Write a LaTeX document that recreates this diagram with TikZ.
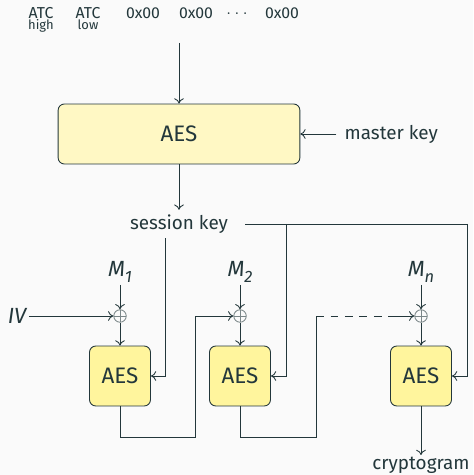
\documentclass[tikz,border=0pt]{standalone}
\usepackage{fontspec}
\setmainfont{Fira Sans}
\usetikzlibrary{positioning, arrows.meta}
\definecolor{ink}{HTML}{23373B}
\definecolor{paper}{HTML}{FAFAFA}
\definecolor{keyfill}{HTML}{FFF8C4}
\definecolor{blockfill}{HTML}{FFF59D}
\definecolor{xorline}{HTML}{7A8688}
\newcommand{\stdarrow}{-{To[length=2.4pt,width=4.4pt]}}
\newcommand{\msg}[1]{{\itshape M}\raisebox{-0.45ex}{\fontsize{7.5}{8}\selectfont #1}}

\tikzset{
    keybox/.style={draw=ink, fill=keyfill, rounded corners=0.1cm, minimum width=3.87cm, minimum height=0.96cm,
        font=\fontsize{10.2}{12}\selectfont},
    aesbox/.style={draw=ink, fill=blockfill, rounded corners=0.1cm, minimum width=0.976cm, minimum height=0.96cm,
        font=\fontsize{10.2}{12}\selectfont},
    xorop/.style={circle, draw=xorline, minimum size=0.2cm, inner sep=0pt,
        path picture={\draw[xorline] (path picture bounding box.north) -- (path picture bounding box.south)
            (path picture bounding box.west) -- (path picture bounding box.east);}},
    bytes/.style={font=\fontsize{7.2}{8}\selectfont, inner sep=0pt},
    halfbyte/.style={font=\fontsize{5.9}{7}\selectfont, inner sep=0pt},
    label/.style={font=\fontsize{10}{12}\selectfont\itshape, inner sep=1pt},
}

\begin{document}
\begin{tikzpicture}[x=0.016cm, y=-0.016cm, color=ink, text=ink, line width=0.4pt,
        font=\fontsize{8.6}{10}\selectfont]
        \fill[paper] (0,0) rectangle (473,475);
        \useasboundingbox (0,0) rectangle (473,475);

        % input block
        \node[bytes, anchor=base] (atch) at (41,19) {ATC};
        \node[halfbyte, anchor=base] (high) at (41,29.5) {high};
        \node[bytes, anchor=base] (atcl) at (88,19) {ATC};
        \node[halfbyte, anchor=base] (low) at (88,29.5) {low};
        \node[bytes, anchor=base] (byte1) at (143,19) {0x00};
        \node[bytes, anchor=base] (byte2) at (196,19) {0x00};
        \node[bytes] (dots) at (237,14) {$\cdots$};
        \node[bytes, anchor=base] (byten) at (282,19) {0x00};
        \coordinate (feed) at (179,43);

        % session key derivation
        \node[keybox] (derive) at (179,134) {AES};
        \node[right=0.576cm of derive.east, inner sep=3.6pt] (master) {master key};
        \node[inner sep=2pt] (session) at (179,224) {session key};
        \draw[\stdarrow] (feed) -- (derive.north);
        \draw[\stdarrow] (master.west) -- (derive.east);
        \draw[\stdarrow] (derive.south) -- (session.north);

        % CBC chain
        \node[label] (m1) at (120,272) {\msg{1}};
        \node[label] (m2) at (240,272) {\msg{2}};
        \node[label] (mn) at (421,272) {\msg{\itshape n}};
        \node[xorop] (x1) at (120,316) {};
        \node[xorop] (x2) at (240,316) {};
        \node[xorop] (xn) at (421,316) {};
        \node[label] (iv) at (17,316) {IV};
        \node[aesbox] (aes1) at (120,376) {AES};
        \node[aesbox] (aes2) at (240,376) {AES};
        \node[aesbox] (aesn) at (421,376) {AES};
        \node[anchor=base, inner sep=0.5pt] (crypt) at (421,469) {cryptogram};

        \draw[\stdarrow] (m1.south) -- (x1.north);
        \draw[\stdarrow] (m2.south) -- (x2.north);
        \draw[\stdarrow] (mn.south) -- (xn.north);
        \draw[\stdarrow] (iv.east) -- (x1.west);
        \draw[\stdarrow] (x1.south) -- (aes1.north);
        \draw[\stdarrow] (x2.south) -- (aes2.north);
        \draw[\stdarrow] (xn.south) -- (aesn.north);

        % key distribution
        \coordinate (tap) at (286,224);
        \coordinate (bus) at (467,224);
        \draw[\stdarrow] ([xshift=-0.224cm]session.south) |- (aes1.east);
        \draw ([xshift=0.2cm]session.east) -- (bus);
        \draw[\stdarrow] (tap) |- (aes2.east);
        \draw[\stdarrow] (bus) |- (aesn.east);

        % chaining
        \coordinate (ret1) at (195,437);
        \coordinate (ret2) at (316,437);
        \coordinate (gap) at (392,316);
        \draw[\stdarrow] (aes1.south) |- (ret1) |- (x2.west);
        \draw (aes2.south) |- (ret2) -- (ret2 |- xn);
        \draw[dash pattern=on 3.6pt off 3pt] (ret2 |- xn) -- (gap);
        \draw[\stdarrow] (gap) -- (xn.west);
        \draw[\stdarrow] (aesn.south) -- (crypt.north);
    \end{tikzpicture}
\end{document}
